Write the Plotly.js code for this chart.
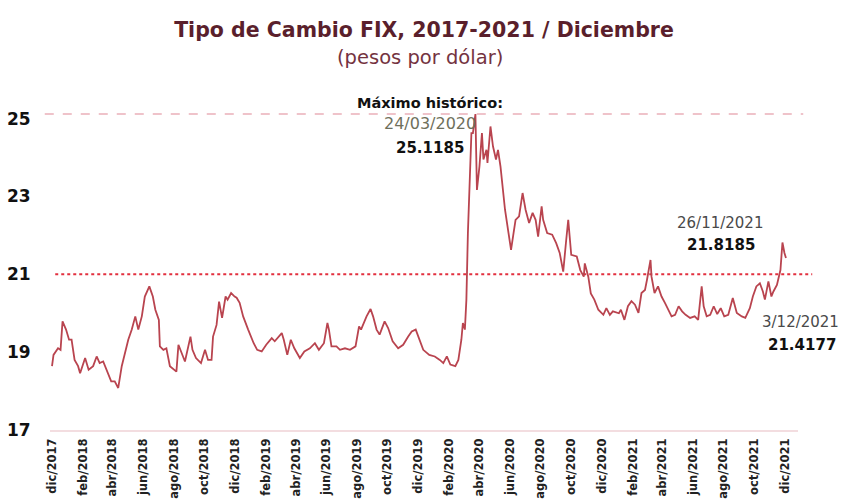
<!DOCTYPE html>
<html>
<head>
<meta charset="utf-8">
<script src="https://cdn.plot.ly/plotly-3.0.1.min.js"></script>
<style>html,body{margin:0;padding:0;background:#fff;}#chart{width:841px;height:500px;}</style>
</head>
<body>
<div id="chart"></div>
<script>
// Tipo de cambio FIX (pesos por dólar)
const fechas = [
 "2017-12-01","2017-12-04","2017-12-13","2017-12-18","2017-12-22","2017-12-29",
 "2018-01-04","2018-01-09","2018-01-15","2018-01-22","2018-01-26","2018-02-05","2018-02-12","2018-02-21","2018-02-28",
 "2018-03-06","2018-03-13","2018-03-20","2018-03-29","2018-04-05","2018-04-12","2018-04-19","2018-04-26",
 "2018-05-02","2018-05-09","2018-05-16","2018-05-22","2018-05-29","2018-06-04","2018-06-13","2018-06-20","2018-06-25",
 "2018-07-02","2018-07-04","2018-07-11","2018-07-17","2018-07-24","2018-07-31","2018-08-06","2018-08-10","2018-08-17","2018-08-23",
 "2018-09-03","2018-09-07","2018-09-14","2018-09-24","2018-10-02","2018-10-08","2018-10-15","2018-10-18","2018-10-25","2018-10-30",
 "2018-11-05","2018-11-12","2018-11-16","2018-11-23","2018-11-30","2018-12-04","2018-12-10","2018-12-17","2018-12-27",
 "2019-01-07","2019-01-14","2019-01-23","2019-02-01","2019-02-12","2019-02-18","2019-03-04","2019-03-08","2019-03-15","2019-03-22","2019-03-29",
 "2019-04-09","2019-04-18","2019-04-29","2019-05-09","2019-05-17","2019-05-27","2019-06-03","2019-06-06","2019-06-11","2019-06-21","2019-06-28",
 "2019-07-08","2019-07-18","2019-07-29","2019-08-05","2019-08-09","2019-08-20","2019-08-28","2019-09-02","2019-09-09","2019-09-15","2019-09-25",
 "2019-10-02","2019-10-11","2019-10-22","2019-11-01","2019-11-11","2019-11-18","2019-11-26","2019-12-04","2019-12-11","2019-12-23",
 "2020-01-03","2020-01-13","2020-01-20","2020-01-27","2020-02-03","2020-02-13","2020-02-19","2020-02-25","2020-02-28",
 "2020-03-03","2020-03-06","2020-03-09","2020-03-12","2020-03-16","2020-03-19","2020-03-24","2020-03-27","2020-04-01","2020-04-06","2020-04-09",
 "2020-04-15","2020-04-17","2020-04-23","2020-04-28","2020-05-04","2020-05-08","2020-05-13","2020-05-18","2020-05-22","2020-05-29",
 "2020-06-03","2020-06-08","2020-06-12","2020-06-19","2020-06-26","2020-07-02","2020-07-09","2020-07-16","2020-07-22","2020-07-27",
 "2020-08-03","2020-08-06","2020-08-14","2020-08-24","2020-09-01","2020-09-08","2020-09-15","2020-09-21","2020-09-25",
 "2020-10-01","2020-10-12","2020-10-19","2020-10-26","2020-10-28","2020-11-04","2020-11-09","2020-11-16","2020-11-24",
 "2020-12-04","2020-12-10","2020-12-17","2020-12-23",
 "2021-01-04","2021-01-08","2021-01-15","2021-01-22","2021-01-29","2021-02-05","2021-02-12","2021-02-18","2021-02-25",
 "2021-03-01","2021-03-08","2021-03-10","2021-03-16","2021-03-23","2021-03-30","2021-04-06","2021-04-12","2021-04-19","2021-04-26",
 "2021-05-03","2021-05-10","2021-05-17","2021-05-26","2021-06-04","2021-06-11","2021-06-18","2021-06-22","2021-06-28",
 "2021-07-05","2021-07-12","2021-07-19","2021-07-26","2021-08-02","2021-08-10","2021-08-19","2021-08-27",
 "2021-09-06","2021-09-13","2021-09-22","2021-09-28","2021-10-05","2021-10-12","2021-10-18","2021-10-22","2021-10-29",
 "2021-11-04","2021-11-08","2021-11-15","2021-11-22","2021-11-26","2021-11-30","2021-12-03"
];
const tipoCambio = [
 18.64,18.93,19.10,19.06,19.79,19.58,
 19.32,19.32,18.80,18.64,18.46,18.85,18.55,18.64,18.89,
 18.72,18.76,18.55,18.25,18.25,18.08,18.64,18.98,
 19.32,19.58,19.92,19.58,19.92,20.43,20.69,20.43,20.09,
 19.83,19.15,19.06,19.10,18.64,18.55,18.50,19.19,18.98,18.76,
 19.40,19.06,18.85,18.72,19.06,18.80,18.80,19.40,19.70,20.30,
 19.88,20.43,20.35,20.52,20.43,20.40,20.27,19.92,19.58,
 19.23,19.06,19.02,19.19,19.36,19.28,19.49,19.32,18.93,19.32,19.10,
 18.85,19.02,19.10,19.23,19.06,19.23,19.75,19.58,19.15,19.15,19.06,
 19.10,19.06,19.15,19.66,19.58,19.92,20.11,19.92,19.58,19.45,19.79,
 19.62,19.28,19.10,19.19,19.40,19.53,19.58,19.32,19.06,18.93,
 18.89,18.80,18.72,18.89,18.68,18.64,18.80,19.32,19.75,
 19.58,20.35,22.06,23.35,24.63,24.63,25.1185,23.17,23.77,24.63,23.95,
 24.20,23.86,24.80,24.29,23.95,24.20,23.77,23.17,22.66,22.06,
 21.63,22.06,22.40,22.49,23.09,22.66,22.32,22.58,22.40,21.97,
 22.75,22.40,22.06,22.02,21.80,21.55,21.07,21.89,22.40,
 21.50,21.46,21.11,20.94,21.28,20.94,20.51,20.35,20.09,
 19.96,20.13,19.96,20.05,
 20.00,20.09,19.83,20.18,20.31,20.22,20.01,20.52,20.60,
 20.86,21.37,20.94,20.52,20.69,20.43,20.26,20.09,19.92,19.96,
 20.18,20.05,19.96,19.88,19.92,19.83,20.69,20.18,19.92,
 19.96,20.18,19.98,20.13,19.92,19.96,20.39,20.01,
 19.92,19.88,20.13,20.43,20.69,20.77,20.56,20.35,20.82,
 20.43,20.56,20.73,21.11,21.8185,21.55,21.4177
];
const tickFechas = ["2017-12-01","2018-02-01","2018-04-01","2018-06-01","2018-08-01","2018-10-01","2018-12-01",
 "2019-02-01","2019-04-01","2019-06-01","2019-08-01","2019-10-01","2019-12-01",
 "2020-02-01","2020-04-01","2020-06-01","2020-08-01","2020-10-01","2020-12-01",
 "2021-02-01","2021-04-01","2021-06-01","2021-08-01","2021-10-01","2021-12-01"];
const tickTextos = ["dic/2017","feb/2018","abr/2018","jun/2018","ago/2018","oct/2018","dic/2018",
 "feb/2019","abr/2019","jun/2019","ago/2019","oct/2019","dic/2019",
 "feb/2020","abr/2020","jun/2020","ago/2020","oct/2020","dic/2020",
 "feb/2021","abr/2021","jun/2021","ago/2021","oct/2021","dic/2021"];
const yTicks = [17, 19, 21, 23, 25];
const maximo = 25.1185;
const referencia = 21;

const FONT = "'DejaVu Sans', sans-serif";

const trace = {
  x: fechas, y: tipoCambio, type: "scatter", mode: "lines",
  line: {color: "#b9444f", width: 1.8},
  hoverinfo: "x+y"
};

const layout = {
  width: 841, height: 500,
  margin: {l: 50, r: 43, t: 100, b: 70},
  paper_bgcolor: "#ffffff", plot_bgcolor: "#ffffff",
  showlegend: false,
  title: {
    text: "Tipo de Cambio FIX, 2017-2021 / Diciembre",
    font: {family: FONT, size: 20.5, color: "#5a1f2c", weight: 700},
    x: 0.5, xanchor: "center", xref: "paper", y: 0.94, yanchor: "middle"
  },
  xaxis: {
    type: "date",
    range: ["2017-11-27", "2021-12-27"],
    tickmode: "array", tickvals: tickFechas, ticktext: tickTextos,
    tickangle: -90,
    tickfont: {family: FONT, size: 11.5, color: "#222222", weight: 700},
    ticks: "outside", ticklen: 2, tickcolor: "rgba(0,0,0,0)",
    showgrid: false, zeroline: false,
    showline: true, linecolor: "#f3dde0", linewidth: 2,
    automargin: false
  },
  yaxis: {
    range: [17, 25.48],
    tickmode: "array", tickvals: yTicks, ticktext: yTicks.map(String),
    tickfont: {family: FONT, size: 17, color: "#111111", weight: 700},
    ticks: "outside", ticklen: 15, tickcolor: "rgba(0,0,0,0)",
    showgrid: false, zeroline: false, showline: false,
    automargin: false
  },
  shapes: [
    {type: "line", xref: "paper", yref: "y", x0: -0.007, x1: 1.007, y0: maximo, y1: maximo,
     line: {color: "#efc3ca", width: 2, dash: "dash"}, layer: "below"},
    {type: "line", xref: "paper", yref: "y", x0: 0.007, x1: 1.019, y0: referencia, y1: referencia,
     line: {color: "#e2303f", width: 2, dash: "dot"}, layer: "below"}
  ],
  annotations: [
    {text: "(pesos por dólar)", xref: "paper", yref: "paper", x: 0.495, y: 1.13, showarrow: false,
     font: {family: FONT, size: 19.5, color: "#74333f"}, xanchor: "center", yanchor: "middle"},
    {text: "<b>Máximo histórico:</b>", xref: "paper", yref: "paper", x: 0.508, y: 0.991, showarrow: false,
     font: {family: FONT, size: 14.5, color: "#111111"}, xanchor: "center", yanchor: "middle"},
    {text: "24/03/2020", xref: "paper", yref: "paper", x: 0.508, y: 0.930, showarrow: false,
     font: {family: FONT, size: 16, color: "#6f705c"}, xanchor: "center", yanchor: "middle"},
    {text: "<b>25.1185</b>", xref: "paper", yref: "paper", x: 0.508, y: 0.855, showarrow: false,
     font: {family: FONT, size: 15, color: "#111111"}, xanchor: "center", yanchor: "middle"},
    {text: "26/11/2021", xref: "paper", yref: "paper", x: 0.896, y: 0.627, showarrow: false,
     font: {family: FONT, size: 15, color: "#4a4a4a"}, xanchor: "center", yanchor: "middle"},
    {text: "<b>21.8185</b>", xref: "paper", yref: "paper", x: 0.897, y: 0.561, showarrow: false,
     font: {family: FONT, size: 15, color: "#111111"}, xanchor: "center", yanchor: "middle"},
    {text: "3/12/2021", xref: "paper", yref: "paper", x: 1.003, y: 0.327, showarrow: false,
     font: {family: FONT, size: 15, color: "#4a4a4a"}, xanchor: "center", yanchor: "middle"},
    {text: "<b>21.4177</b>", xref: "paper", yref: "paper", x: 1.005, y: 0.258, showarrow: false,
     font: {family: FONT, size: 15, color: "#111111"}, xanchor: "center", yanchor: "middle"}
  ]
};

Plotly.newPlot("chart", [trace], layout, {displayModeBar: false, staticPlot: true});
</script>
</body>
</html>
